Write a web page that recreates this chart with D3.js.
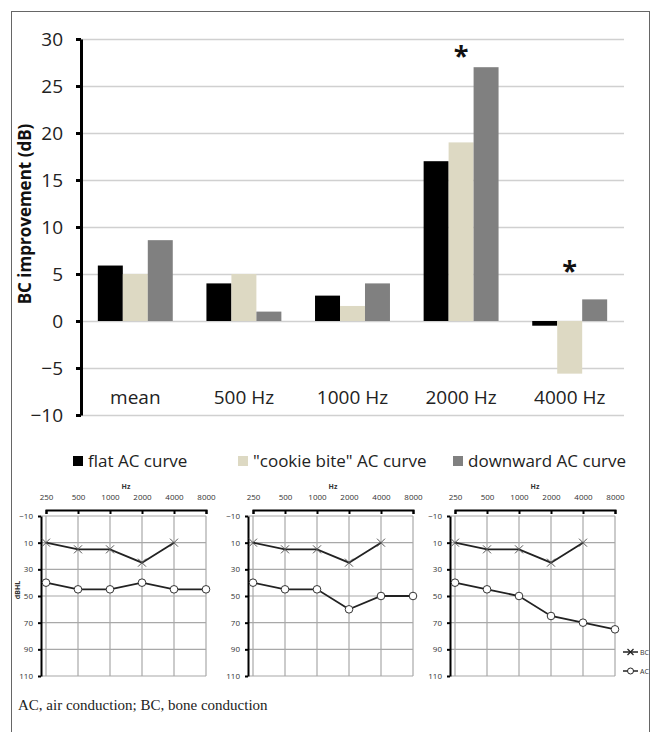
<!DOCTYPE html>
<html>
<head>
<meta charset="utf-8">
<script src="https://cdn.jsdelivr.net/npm/d3@7"></script>
<style>
  body { margin: 0; background: #fff; }
  svg { display: block; }
</style>
</head>
<body>
<svg id="chart" width="662" height="732"></svg>
<script>
// bar chart data
const categories = ["mean", "500 Hz", "1000 Hz", "2000 Hz", "4000 Hz"];
const seriesNames = ["flat AC curve", "\"cookie bite\" AC curve", "downward AC curve"];
const flatValues = [5.9, 4.0, 2.7, 17, -0.5];
const cookieValues = [5.0, 5.0, 1.6, 19, -5.6];
const downwardValues = [8.6, 1.0, 4.0, 27, 2.3];
const yTicks = [-10, -5, 0, 5, 10, 15, 20, 25, 30];
const starLevels = [null, null, null, 28.8, 6.0];

// audiogram data
const freqs = [250, 500, 1000, 2000, 4000, 8000];
const bcFreqs = [250, 500, 1000, 2000, 4000];
const dbTicks = [-10, 10, 30, 50, 70, 90, 110];
const bcFlat = [10, 15, 15, 25, 10];
const bcCookie = [10, 15, 15, 25, 10];
const bcDownward = [10, 15, 15, 25, 10];
const acFlat = [40, 45, 45, 40, 45, 45];
const acCookie = [40, 45, 45, 60, 50, 50];
const acDownward = [40, 45, 50, 65, 70, 75];

const colors = ["#000000", "#ddd9c3", "#808080"];
const seriesValues = [flatValues, cookieValues, downwardValues];

const svg = d3.select("#chart");

// outer frame
svg.append("rect")
  .attr("x", 11.5).attr("y", 11.5)
  .attr("width", 638).attr("height", 740)
  .attr("fill", "none").attr("stroke", "#666").attr("stroke-width", 1);

// ---------- bar chart ----------
const left = 81, right = 624;
const y = d3.scaleLinear().domain([-10, 30]).range([415, 39]);
const x0 = d3.scaleBand().domain(categories).range([left, right])
  .paddingInner(0.31).paddingOuter(0.155);
const x1 = d3.scaleBand().domain(d3.range(3)).range([0, x0.bandwidth()]);

// gridlines
svg.append("g")
  .attr("transform", "translate(" + left + ",0)")
  .call(d3.axisLeft(y).tickValues(yTicks).tickSize(-(right - left)).tickFormat(""))
  .call(g => g.select(".domain").remove())
  .call(g => g.selectAll("line").attr("stroke", "#d0d0d0").attr("stroke-width", 1.6));

// bars
const groups = svg.append("g").selectAll("g")
  .data(categories)
  .enter().append("g")
  .attr("transform", d => "translate(" + x0(d) + ",0)");
groups.selectAll("rect")
  .data((d, i) => seriesValues.map((vals, s) => ({ s: s, v: vals[i] })))
  .enter().append("rect")
  .attr("x", d => x1(d.s))
  .attr("width", x1.bandwidth())
  .attr("y", d => y(Math.max(0, d.v)))
  .attr("height", d => Math.abs(y(d.v) - y(0)))
  .attr("fill", d => colors[d.s]);

// y axis
svg.append("g")
  .attr("transform", "translate(" + left + ",0)")
  .call(d3.axisLeft(y).tickValues(yTicks).tickSize(5).tickSizeOuter(0).tickPadding(13))
  .call(g => g.select(".domain").attr("stroke", "#000").attr("stroke-width", 3))
  .call(g => g.selectAll("line").attr("stroke", "#000").attr("stroke-width", 3))
  .call(g => g.selectAll("text").attr("font-family", "Open Sans").attr("font-size", 19).attr("fill", "#222"));

// category labels
svg.append("g")
  .attr("transform", "translate(0,390)")
  .call(d3.axisBottom(x0).tickSize(0).tickPadding(0))
  .call(g => g.select(".domain").remove())
  .call(g => g.selectAll("text").attr("font-family", "Open Sans").attr("font-size", 19).attr("fill", "#222"));

// y title
svg.append("text")
  .attr("transform", "translate(31,214) rotate(-90)")
  .attr("text-anchor", "middle")
  .attr("font-family", "Open Sans").attr("font-weight", "bold").attr("font-size", 17)
  .attr("fill", "#111")
  .text("BC improvement (dB)");

// significance stars
svg.append("g").selectAll("text")
  .data(categories.map((c, i) => ({ c: c, level: starLevels[i] })).filter(d => d.level !== null))
  .enter().append("text")
  .attr("x", d => x0(d.c) + x0.bandwidth() / 2)
  .attr("y", d => y(d.level) + 15)
  .attr("text-anchor", "middle")
  .attr("font-family", "Open Sans").attr("font-weight", "bold").attr("font-size", 27)
  .attr("fill", "#111")
  .text("*");

// legend
const legendX = [73, 238, 453];
const legend = svg.append("g").selectAll("g")
  .data(seriesNames)
  .enter().append("g")
  .attr("transform", (d, i) => "translate(" + legendX[i] + ",461)");
legend.append("rect")
  .attr("x", 0).attr("y", -5).attr("width", 10).attr("height", 10)
  .attr("fill", (d, i) => colors[i]);
legend.append("text")
  .attr("x", 15).attr("y", 6)
  .attr("font-family", "Open Sans").attr("font-size", 17).attr("fill", "#222")
  .text(d => d);

// ---------- audiograms ----------
const panels = [
  { x: 46, bc: bcFlat, ac: acFlat, dbhl: true },
  { x: 253, bc: bcCookie, ac: acCookie, dbhl: false },
  { x: 455, bc: bcDownward, ac: acDownward, dbhl: false }
];
const ay = d3.scaleLinear().domain([-10, 110]).range([516, 676]);
const crossPath = "M-4,-4L4,4M-4,4L4,-4";

panels.forEach((p, pi) => {
  const ax = d3.scaleLog().base(2).domain([250, 8000]).range([p.x, p.x + 160]);
  const axisX = p.x - 5;
  const g = svg.append("g");

  // grid
  g.append("g").selectAll("line.h")
    .data(dbTicks).enter().append("line")
    .attr("x1", axisX).attr("x2", ax(8000))
    .attr("y1", d => ay(d)).attr("y2", d => ay(d))
    .attr("stroke", "#a8a8a8").attr("stroke-width", 1.2);
  g.append("g").selectAll("line.v")
    .data(freqs).enter().append("line")
    .attr("x1", d => ax(d)).attr("x2", d => ax(d))
    .attr("y1", ay(-10)).attr("y2", ay(110))
    .attr("stroke", "#a8a8a8").attr("stroke-width", 1.2);

  // left axis
  g.append("g")
    .attr("transform", "translate(" + axisX + ",0)")
    .call(d3.axisLeft(ay).tickValues(dbTicks).tickSize(3).tickSizeOuter(0).tickPadding(5))
    .call(a => a.select(".domain").attr("stroke", "#000").attr("stroke-width", 2))
    .call(a => a.selectAll("line").attr("stroke", "#000").attr("stroke-width", 2))
    .call(a => a.selectAll("text").attr("font-family", "Open Sans").attr("font-size", 8).attr("fill", "#333"));

  // top frequency axis
  g.append("g")
    .attr("transform", "translate(0,510)")
    .call(d3.axisTop(ax).tickValues(freqs).tickFormat(d3.format("d"))
      .tickSizeInner(-4).tickSizeOuter(-4).tickPadding(10))
    .call(a => a.select(".domain").attr("stroke", "#000").attr("stroke-width", 2))
    .call(a => a.selectAll("line").attr("stroke", "#000").attr("stroke-width", 2))
    .call(a => a.selectAll("text").attr("font-family", "Open Sans").attr("font-size", 8).attr("fill", "#333"));

  g.append("text")
    .attr("x", (ax(250) + ax(8000)) / 2).attr("y", 489)
    .attr("text-anchor", "middle")
    .attr("font-family", "Open Sans").attr("font-weight", "bold").attr("font-size", 7)
    .attr("fill", "#333").text("Hz");

  if (p.dbhl) {
    g.append("text")
      .attr("transform", "translate(20,590) rotate(-90)")
      .attr("text-anchor", "middle")
      .attr("font-family", "Open Sans").attr("font-weight", "bold").attr("font-size", 7)
      .attr("fill", "#333").text("dBHL");
  }

  const line = d3.line().x(d => ax(d[0])).y(d => ay(d[1]));
  const bcPts = bcFreqs.map((f, i) => [f, p.bc[i]]);
  const acPts = freqs.map((f, i) => [f, p.ac[i]]);

  g.append("path").datum(bcPts).attr("d", line)
    .attr("fill", "none").attr("stroke", "#222").attr("stroke-width", 1.8);
  g.append("path").datum(acPts).attr("d", line)
    .attr("fill", "none").attr("stroke", "#222").attr("stroke-width", 1.8);

  g.append("g").selectAll("path")
    .data(bcPts).enter().append("path")
    .attr("d", crossPath)
    .attr("transform", d => "translate(" + ax(d[0]) + "," + ay(d[1]) + ")")
    .attr("stroke", "#555").attr("stroke-width", 1).attr("fill", "none");
  g.append("g").selectAll("circle")
    .data(acPts).enter().append("circle")
    .attr("cx", d => ax(d[0])).attr("cy", d => ay(d[1])).attr("r", 3.8)
    .attr("fill", "#fff").attr("stroke", "#333").attr("stroke-width", 1);

  if (pi === 2) {
    const lg = g.append("g");
    const items = [{ name: "BC", y: 652 }, { name: "AC", y: 671 }];
    items.forEach(it => {
      lg.append("line").attr("x1", 623).attr("x2", 638).attr("y1", it.y).attr("y2", it.y)
        .attr("stroke", "#222").attr("stroke-width", 1.5);
      if (it.name === "BC") {
        lg.append("path").attr("d", "M-3,-3L3,3M-3,3L3,-3")
          .attr("transform", "translate(630.5," + it.y + ")")
          .attr("stroke", "#222").attr("stroke-width", 1.2);
      } else {
        lg.append("circle").attr("cx", 630.5).attr("cy", it.y).attr("r", 3)
          .attr("fill", "#fff").attr("stroke", "#222").attr("stroke-width", 1);
      }
      lg.append("text").attr("x", 640).attr("y", it.y + 2.5)
        .attr("font-family", "Open Sans").attr("font-size", 7).attr("fill", "#333")
        .text(it.name);
    });
  }
});

// footnote
svg.append("text")
  .attr("x", 18).attr("y", 710)
  .attr("font-family", "Liberation Serif").attr("font-size", 15).attr("fill", "#222")
  .text("AC, air conduction; BC, bone conduction");
</script>
</body>
</html>
